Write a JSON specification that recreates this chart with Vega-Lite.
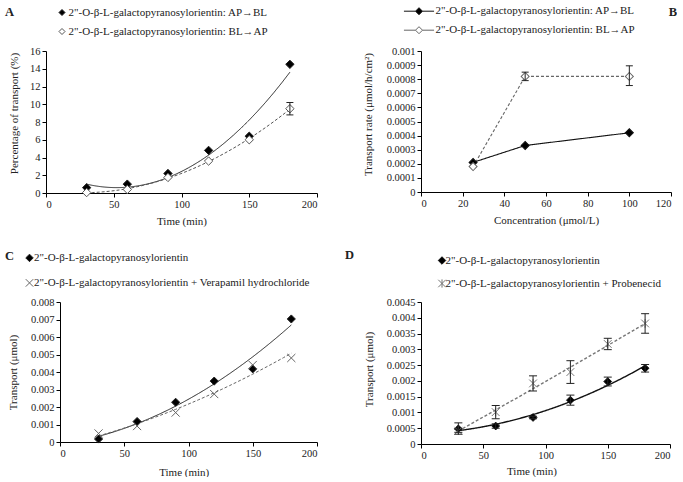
{
  "$schema": "https://vega.github.io/schema/vega-lite/v6.json",
  "background": "white",
  "padding": {"left": 5, "top": 5, "right": 0, "bottom": 0},
  "config": {
    "font": "Liberation Serif",
    "view": {"stroke": null},
    "axis": {"grid": false, "domainColor": "#000", "tickColor": "#000", "tickSize": 4, "labelFontSize": 10.5, "labelColor": "#222", "labelFont": "Liberation Serif", "titleFont": "Liberation Serif", "titleFontSize": 11, "titleFontWeight": "normal", "titleColor": "#222", "labelPadding": 2, "labelOverlap": false, "titleBaseline": "middle", "titleAlign": "center"},
    "legend": {"labelFont": "Liberation Serif", "labelFontSize": 11, "labelColor": "#222", "labelLimit": 400, "padding": 0, "offset": 0},
    "title": {"font": "Liberation Serif", "fontSize": 12.5, "fontWeight": "bold", "color": "#222", "offset": 0}
  },
  "datasets": {
    "A": [
      {"series": "2\"-O-β-L-galactopyranosylorientin:  AP→BL", "x": 30, "y": 0.6},
      {"series": "2\"-O-β-L-galactopyranosylorientin:  AP→BL", "x": 60, "y": 1.0},
      {"series": "2\"-O-β-L-galactopyranosylorientin:  AP→BL", "x": 90, "y": 2.2},
      {"series": "2\"-O-β-L-galactopyranosylorientin:  AP→BL", "x": 120, "y": 4.8},
      {"series": "2\"-O-β-L-galactopyranosylorientin:  AP→BL", "x": 150, "y": 6.4},
      {"series": "2\"-O-β-L-galactopyranosylorientin:  AP→BL", "x": 180, "y": 14.5},
      {"series": "2\"-O-β-L-galactopyranosylorientin:  BL→AP", "x": 30, "y": 0.05},
      {"series": "2\"-O-β-L-galactopyranosylorientin:  BL→AP", "x": 60, "y": 0.4},
      {"series": "2\"-O-β-L-galactopyranosylorientin:  BL→AP", "x": 90, "y": 1.75},
      {"series": "2\"-O-β-L-galactopyranosylorientin:  BL→AP", "x": 120, "y": 3.6},
      {"series": "2\"-O-β-L-galactopyranosylorientin:  BL→AP", "x": 150, "y": 6.0},
      {"series": "2\"-O-β-L-galactopyranosylorientin:  BL→AP", "x": 180, "y": 9.5, "lo": 8.8, "hi": 10.2}
    ],
    "B": [
      {"series": "2\"-O-β-L-galactopyranosylorientin:  AP→BL", "x": 25, "y": 0.00021},
      {"series": "2\"-O-β-L-galactopyranosylorientin:  AP→BL", "x": 50, "y": 0.00033},
      {"series": "2\"-O-β-L-galactopyranosylorientin:  AP→BL", "x": 100, "y": 0.00042},
      {"series": "2\"-O-β-L-galactopyranosylorientin:  BL→AP", "x": 25, "y": 0.00018},
      {"series": "2\"-O-β-L-galactopyranosylorientin:  BL→AP", "x": 50, "y": 0.00082, "lo": 0.00079, "hi": 0.00085},
      {"series": "2\"-O-β-L-galactopyranosylorientin:  BL→AP", "x": 100, "y": 0.00082, "lo": 0.000755, "hi": 0.000895}
    ],
    "C": [
      {"series": "2\"-O-β-L-galactopyranosylorientin", "x": 30, "y": 0.00017},
      {"series": "2\"-O-β-L-galactopyranosylorientin", "x": 60, "y": 0.00117},
      {"series": "2\"-O-β-L-galactopyranosylorientin", "x": 90, "y": 0.00227},
      {"series": "2\"-O-β-L-galactopyranosylorientin", "x": 120, "y": 0.00348},
      {"series": "2\"-O-β-L-galactopyranosylorientin", "x": 150, "y": 0.00418},
      {"series": "2\"-O-β-L-galactopyranosylorientin", "x": 180, "y": 0.00703},
      {"series": "2\"-O-β-L-galactopyranosylorientin + Verapamil  hydrochloride", "x": 30, "y": 0.00049},
      {"series": "2\"-O-β-L-galactopyranosylorientin + Verapamil  hydrochloride", "x": 60, "y": 0.00091},
      {"series": "2\"-O-β-L-galactopyranosylorientin + Verapamil  hydrochloride", "x": 90, "y": 0.00168},
      {"series": "2\"-O-β-L-galactopyranosylorientin + Verapamil  hydrochloride", "x": 120, "y": 0.00274},
      {"series": "2\"-O-β-L-galactopyranosylorientin + Verapamil  hydrochloride", "x": 150, "y": 0.0044},
      {"series": "2\"-O-β-L-galactopyranosylorientin + Verapamil  hydrochloride", "x": 180, "y": 0.0048}
    ],
    "D": [
      {"series": "2\"-O-β-L-galactopyranosylorientin", "x": 30, "y": 0.00048, "lo": 0.00031, "hi": 0.00067},
      {"series": "2\"-O-β-L-galactopyranosylorientin", "x": 60, "y": 0.00057, "lo": 0.0005, "hi": 0.00064},
      {"series": "2\"-O-β-L-galactopyranosylorientin", "x": 90, "y": 0.00084, "lo": 0.0008, "hi": 0.00088},
      {"series": "2\"-O-β-L-galactopyranosylorientin", "x": 120, "y": 0.00139, "lo": 0.00123, "hi": 0.00155},
      {"series": "2\"-O-β-L-galactopyranosylorientin", "x": 150, "y": 0.00198, "lo": 0.00184, "hi": 0.00212},
      {"series": "2\"-O-β-L-galactopyranosylorientin", "x": 180, "y": 0.0024, "lo": 0.00228, "hi": 0.00252},
      {"series": "2\"-O-β-L-galactopyranosylorientin + Probenecid", "x": 30, "y": 0.00042, "lo": 0.00037, "hi": 0.00047},
      {"series": "2\"-O-β-L-galactopyranosylorientin + Probenecid", "x": 60, "y": 0.00101, "lo": 0.0008, "hi": 0.00122},
      {"series": "2\"-O-β-L-galactopyranosylorientin + Probenecid", "x": 90, "y": 0.00192, "lo": 0.00168, "hi": 0.00216},
      {"series": "2\"-O-β-L-galactopyranosylorientin + Probenecid", "x": 120, "y": 0.00228, "lo": 0.00192, "hi": 0.00264},
      {"series": "2\"-O-β-L-galactopyranosylorientin + Probenecid", "x": 150, "y": 0.00317, "lo": 0.00299, "hi": 0.00335},
      {"series": "2\"-O-β-L-galactopyranosylorientin + Probenecid", "x": 180, "y": 0.00382, "lo": 0.00351, "hi": 0.00413}
    ]
  },
  "columns": 2,
  "bounds": "flush",
  "spacing": {"row": 109, "column": 104},
  "resolve": {"scale": {"shape": "independent", "fill": "independent", "stroke": "independent", "strokeDash": "independent"}},
  "concat": [
    {
      "width": 271, "height": 142,
      "title": {"text": "A", "anchor": "start", "frame": "group", "dx": -41, "dy": 15.5},
      "data": {"name": "A"},
      "encoding": {
        "x": {"field": "x", "type": "quantitative", "scale": {"domain": [0, 200], "nice": false}, "axis": {"title": "Time (min)", "values": [0, 50, 100, 150, 200], "labelOverlap": false, "titleFontWeight": "normal", "titleY": 28.7}},
        "y": {"field": "y", "type": "quantitative", "scale": {"domain": [0, 16], "nice": false}, "axis": {"title": "Percentage of transport (%)", "values": [0, 2, 4, 6, 8, 10, 12, 14, 16], "labelOverlap": false, "titleFontWeight": "normal", "titleX": -32, "titleY": 62}}
      },
      "layer": [
        {
          "transform": [{"regression": "y", "on": "x", "groupby": ["series"], "method": "poly", "order": 2, "extent": [30, 180]}],
          "mark": {"type": "line", "strokeWidth": 1},
          "encoding": {
            "detail": {"field": "series", "type": "nominal"},
            "stroke": {"condition": {"test": "indexof(datum.series, 'BL→AP') >= 0", "value": "#555"}, "value": "#222"},
            "strokeDash": {"condition": {"test": "indexof(datum.series, 'BL→AP') >= 0", "value": [3, 2]}, "value": [1, 0]}
          }
        },
        {
          "mark": {"type": "point", "size": 70, "opacity": 1, "strokeWidth": 1},
          "encoding": {
            "shape": {"field": "series", "type": "nominal", "scale": {"domain": ["2\"-O-β-L-galactopyranosylorientin:  AP→BL", "2\"-O-β-L-galactopyranosylorientin:  BL→AP"], "range": ["diamond", "diamond"]}, "legend": {"title": null, "orient": "none", "direction": "vertical", "legendX": 10.5, "legendY": -44, "symbolSize": 36, "labelOffset": 1, "rowPadding": 7, "symbolStrokeWidth": 1}},
            "fill": {"field": "series", "type": "nominal", "scale": {"domain": ["2\"-O-β-L-galactopyranosylorientin:  AP→BL", "2\"-O-β-L-galactopyranosylorientin:  BL→AP"], "range": ["#000", "#fff"]}, "legend": {"title": null, "orient": "none", "direction": "vertical", "legendX": 10.5, "legendY": -44, "symbolSize": 36, "labelOffset": 1, "rowPadding": 7, "symbolStrokeWidth": 1}},
            "stroke": {"field": "series", "type": "nominal", "scale": {"domain": ["2\"-O-β-L-galactopyranosylorientin:  AP→BL", "2\"-O-β-L-galactopyranosylorientin:  BL→AP"], "range": ["#222", "#555"]}, "legend": {"title": null, "orient": "none", "direction": "vertical", "legendX": 10.5, "legendY": -44, "symbolSize": 36, "labelOffset": 1, "rowPadding": 7, "symbolStrokeWidth": 1}}
          }
        },
        {
          "transform": [{"filter": "datum.lo != null"}],
          "mark": {"type": "rule", "color": "#222", "strokeWidth": 1},
          "encoding": {
            "y": {"field": "lo", "type": "quantitative", "scale": {"domain": [0, 16], "nice": false}, "axis": {"title": "Percentage of transport (%)", "values": [0, 2, 4, 6, 8, 10, 12, 14, 16], "labelOverlap": false, "titleFontWeight": "normal", "titleX": -32, "titleY": 62}},
            "y2": {"field": "hi"}
          }
        },
        {
          "transform": [{"filter": "datum.lo != null"}],
          "mark": {"type": "tick", "orient": "horizontal", "size": 7, "thickness": 1, "color": "#222", "opacity": 1},
          "encoding": {
            "y": {"field": "lo", "type": "quantitative", "scale": {"domain": [0, 16], "nice": false}, "axis": {"title": "Percentage of transport (%)", "values": [0, 2, 4, 6, 8, 10, 12, 14, 16], "labelOverlap": false, "titleFontWeight": "normal", "titleX": -32, "titleY": 62}}
          }
        },
        {
          "transform": [{"filter": "datum.lo != null"}],
          "mark": {"type": "tick", "orient": "horizontal", "size": 7, "thickness": 1, "color": "#222", "opacity": 1},
          "encoding": {
            "y": {"field": "hi", "type": "quantitative", "scale": {"domain": [0, 16], "nice": false}, "axis": {"title": "Percentage of transport (%)", "values": [0, 2, 4, 6, 8, 10, 12, 14, 16], "labelOverlap": false, "titleFontWeight": "normal", "titleX": -32, "titleY": 62}}
          }
        }
      ]
    },
    {
      "width": 250, "height": 141,
      "title": {"text": "B", "anchor": "end", "frame": "group", "dx": 6, "dy": 17},
      "data": {"name": "B"},
      "encoding": {
        "x": {"field": "x", "type": "quantitative", "scale": {"domain": [0, 120], "nice": false}, "axis": {"title": "Concentration (μmol/L)", "values": [0, 20, 40, 60, 80, 100, 120], "labelOverlap": false, "titleFontWeight": "normal", "titleY": 28.7}},
        "y": {"field": "y", "type": "quantitative", "scale": {"domain": [0, 0.001], "nice": false}, "axis": {"title": "Transport rate (μmol/h/cm²)", "values": [0, 0.0001, 0.0002, 0.0003, 0.0004, 0.0005, 0.0006, 0.0007, 0.0008, 0.0009, 0.001], "format": "~g", "labelOverlap": false, "titleFontWeight": "normal", "titleX": -53, "titleY": 63}}
      },
      "layer": [
        {
          "mark": {"type": "line", "strokeWidth": 1.1},
          "encoding": {
            "detail": {"field": "series", "type": "nominal"},
            "stroke": {"condition": {"test": "indexof(datum.series, 'BL→AP') >= 0", "value": "#666"}, "value": "#111"},
            "strokeDash": {"condition": {"test": "indexof(datum.series, 'BL→AP') >= 0", "value": [3, 2]}, "value": [1, 0]}
          }
        },
        {
          "mark": {"type": "square", "size": 32, "angle": 45, "opacity": 1, "strokeWidth": 1},
          "encoding": {
            "fill": {"field": "series", "type": "nominal", "scale": {"domain": ["2\"-O-β-L-galactopyranosylorientin:  AP→BL", "2\"-O-β-L-galactopyranosylorientin:  BL→AP"], "range": ["#000", "#fff"]}, "legend": {"title": null, "orient": "none", "direction": "vertical", "legendX": -7.5, "legendY": -45.3, "symbolSize": 49, "symbolType": "M-4.3,0L-1,0M1,0L4.3,0M-1,0L0,-1L1,0L0,1Z", "labelOffset": 11, "rowPadding": 7, "symbolStrokeWidth": 1, "encode": {"symbols": {"update": {"shape": {"value": "M-4.3,0L-1,0M1,0L4.3,0M-1,0L0,-1L1,0L0,1Z"}, "angle": {"value": 0}, "strokeDash": {"signal": "indexof(datum.value, 'BL→AP') >= 0 ? [2, 1.5] : [1, 0]"}}}}}},
            "stroke": {"field": "series", "type": "nominal", "scale": {"domain": ["2\"-O-β-L-galactopyranosylorientin:  AP→BL", "2\"-O-β-L-galactopyranosylorientin:  BL→AP"], "range": ["#111", "#666"]}, "legend": {"title": null, "orient": "none", "direction": "vertical", "legendX": -7.5, "legendY": -45.3, "symbolSize": 49, "symbolType": "M-4.3,0L-1,0M1,0L4.3,0M-1,0L0,-1L1,0L0,1Z", "labelOffset": 11, "rowPadding": 7, "symbolStrokeWidth": 1, "encode": {"symbols": {"update": {"shape": {"value": "M-4.3,0L-1,0M1,0L4.3,0M-1,0L0,-1L1,0L0,1Z"}, "angle": {"value": 0}, "strokeDash": {"signal": "indexof(datum.value, 'BL→AP') >= 0 ? [2, 1.5] : [1, 0]"}}}}}}
          }
        },
        {
          "transform": [{"filter": "datum.lo != null"}],
          "mark": {"type": "rule", "color": "#222", "strokeWidth": 1},
          "encoding": {
            "y": {"field": "lo", "type": "quantitative", "scale": {"domain": [0, 0.001], "nice": false}, "axis": {"title": "Transport rate (μmol/h/cm²)", "values": [0, 0.0001, 0.0002, 0.0003, 0.0004, 0.0005, 0.0006, 0.0007, 0.0008, 0.0009, 0.001], "format": "~g", "labelOverlap": false, "titleFontWeight": "normal", "titleX": -53, "titleY": 63}},
            "y2": {"field": "hi"}
          }
        },
        {
          "transform": [{"filter": "datum.lo != null"}],
          "mark": {"type": "tick", "orient": "horizontal", "size": 7, "thickness": 1, "color": "#222", "opacity": 1},
          "encoding": {
            "y": {"field": "lo", "type": "quantitative", "scale": {"domain": [0, 0.001], "nice": false}, "axis": {"title": "Transport rate (μmol/h/cm²)", "values": [0, 0.0001, 0.0002, 0.0003, 0.0004, 0.0005, 0.0006, 0.0007, 0.0008, 0.0009, 0.001], "format": "~g", "labelOverlap": false, "titleFontWeight": "normal", "titleX": -53, "titleY": 63}}
          }
        },
        {
          "transform": [{"filter": "datum.lo != null"}],
          "mark": {"type": "tick", "orient": "horizontal", "size": 7, "thickness": 1, "color": "#222", "opacity": 1},
          "encoding": {
            "y": {"field": "hi", "type": "quantitative", "scale": {"domain": [0, 0.001], "nice": false}, "axis": {"title": "Transport rate (μmol/h/cm²)", "values": [0, 0.0001, 0.0002, 0.0003, 0.0004, 0.0005, 0.0006, 0.0007, 0.0008, 0.0009, 0.001], "format": "~g", "labelOverlap": false, "titleFontWeight": "normal", "titleX": -53, "titleY": 63}}
          }
        }
      ]
    },
    {
      "width": 271, "height": 140,
      "title": {"text": "C", "anchor": "start", "frame": "group", "dx": -41, "dy": 14.5},
      "data": {"name": "C"},
      "encoding": {
        "x": {"field": "x", "type": "quantitative", "scale": {"domain": [0, 200], "nice": false, "range": [14, 271]}, "axis": {"title": "Time (min)", "values": [0, 50, 100, 150, 200], "labelOverlap": false, "titleFontWeight": "normal", "titleX": 137.7, "titleY": 30}},
        "y": {"field": "y", "type": "quantitative", "scale": {"domain": [0, 0.008], "nice": false}, "axis": {"title": "Transport (μmol)", "values": [0, 0.001, 0.002, 0.003, 0.004, 0.005, 0.006, 0.007, 0.008], "format": "~g", "labelOverlap": false, "offset": -14, "titleFontWeight": "normal", "titleX": -46.7, "titleY": 70}}
      },
      "layer": [
        {
          "transform": [{"regression": "y", "on": "x", "groupby": ["series"], "method": "poly", "order": 2, "extent": [30, 180]}],
          "mark": {"type": "line", "strokeWidth": 1},
          "encoding": {
            "detail": {"field": "series", "type": "nominal"},
            "stroke": {"condition": {"test": "indexof(datum.series, '+') >= 0", "value": "#666"}, "value": "#222"},
            "strokeDash": {"condition": {"test": "indexof(datum.series, '+') >= 0", "value": [3, 2]}, "value": [1, 0]}
          }
        },
        {
          "mark": {"type": "point", "size": 66, "opacity": 1, "strokeWidth": 1},
          "encoding": {
            "shape": {"field": "series", "type": "nominal", "scale": {"domain": ["2\"-O-β-L-galactopyranosylorientin", "2\"-O-β-L-galactopyranosylorientin + Verapamil  hydrochloride"], "range": ["diamond", "M-1,-1L1,1M-1,1L1,-1"]}, "legend": {"title": null, "orient": "none", "direction": "vertical", "legendX": -22, "legendY": -49.6, "symbolSize": 56, "labelOffset": -1, "rowPadding": 12, "symbolStrokeWidth": 1}},
            "fill": {"field": "series", "type": "nominal", "scale": {"domain": ["2\"-O-β-L-galactopyranosylorientin", "2\"-O-β-L-galactopyranosylorientin + Verapamil  hydrochloride"], "range": ["#000", "transparent"]}, "legend": {"title": null, "orient": "none", "direction": "vertical", "legendX": -22, "legendY": -49.6, "symbolSize": 56, "labelOffset": -1, "rowPadding": 12, "symbolStrokeWidth": 1}},
            "stroke": {"field": "series", "type": "nominal", "scale": {"domain": ["2\"-O-β-L-galactopyranosylorientin", "2\"-O-β-L-galactopyranosylorientin + Verapamil  hydrochloride"], "range": ["#222", "#666"]}, "legend": {"title": null, "orient": "none", "direction": "vertical", "legendX": -22, "legendY": -49.6, "symbolSize": 56, "labelOffset": -1, "rowPadding": 12, "symbolStrokeWidth": 1}}
          }
        }
      ]
    },
    {
      "width": 249, "height": 142,
      "title": {"text": "D", "anchor": "start", "frame": "group", "dx": -76, "dy": 10.5},
      "data": {"name": "D"},
      "encoding": {
        "x": {"field": "x", "type": "quantitative", "scale": {"domain": [0, 200], "nice": false}, "axis": {"title": "Time (min)", "values": [0, 50, 100, 150, 200], "labelOverlap": false, "titleFontWeight": "normal", "titleX": 110.5, "titleY": 27.7}},
        "y": {"field": "y", "type": "quantitative", "scale": {"domain": [0, 0.0045], "nice": false}, "axis": {"title": "Transport (μmol)", "values": [0, 0.0005, 0.001, 0.0015, 0.002, 0.0025, 0.003, 0.0035, 0.004, 0.0045], "format": "~g", "labelOverlap": false, "titleFontWeight": "normal", "titleX": -52, "titleY": 67}}
      },
      "layer": [
        {
          "transform": [{"regression": "y", "on": "x", "groupby": ["series"], "method": "poly", "order": 2, "extent": [30, 180]}],
          "mark": {"type": "line", "strokeWidth": 1.4},
          "encoding": {
            "detail": {"field": "series", "type": "nominal"},
            "stroke": {"condition": {"test": "indexof(datum.series, '+') >= 0", "value": "#777"}, "value": "#111"},
            "strokeDash": {"condition": {"test": "indexof(datum.series, '+') >= 0", "value": [3, 2]}, "value": [1, 0]}
          }
        },
        {
          "mark": {"type": "point", "size": 60, "opacity": 1, "strokeWidth": 1},
          "encoding": {
            "shape": {"field": "series", "type": "nominal", "scale": {"domain": ["2\"-O-β-L-galactopyranosylorientin", "2\"-O-β-L-galactopyranosylorientin + Probenecid"], "range": ["diamond", "M-1,-1L1,1M-1,1L1,-1M0,-1.1L0,1.1"]}, "legend": {"title": null, "orient": "none", "direction": "vertical", "legendX": 15.5, "legendY": -47, "symbolSize": 56, "labelOffset": -2, "rowPadding": 10, "symbolStrokeWidth": 1}},
            "fill": {"field": "series", "type": "nominal", "scale": {"domain": ["2\"-O-β-L-galactopyranosylorientin", "2\"-O-β-L-galactopyranosylorientin + Probenecid"], "range": ["#000", "transparent"]}, "legend": {"title": null, "orient": "none", "direction": "vertical", "legendX": 15.5, "legendY": -47, "symbolSize": 56, "labelOffset": -2, "rowPadding": 10, "symbolStrokeWidth": 1}},
            "stroke": {"field": "series", "type": "nominal", "scale": {"domain": ["2\"-O-β-L-galactopyranosylorientin", "2\"-O-β-L-galactopyranosylorientin + Probenecid"], "range": ["#111", "#777"]}, "legend": {"title": null, "orient": "none", "direction": "vertical", "legendX": 15.5, "legendY": -47, "symbolSize": 56, "labelOffset": -2, "rowPadding": 10, "symbolStrokeWidth": 1}}
          }
        },
        {
          "transform": [{"filter": "datum.lo != null"}],
          "mark": {"type": "rule", "color": "#222", "strokeWidth": 1},
          "encoding": {
            "y": {"field": "lo", "type": "quantitative", "scale": {"domain": [0, 0.0045], "nice": false}, "axis": {"title": "Transport (μmol)", "values": [0, 0.0005, 0.001, 0.0015, 0.002, 0.0025, 0.003, 0.0035, 0.004, 0.0045], "format": "~g", "labelOverlap": false, "titleFontWeight": "normal", "titleX": -52, "titleY": 67}},
            "y2": {"field": "hi"}
          }
        },
        {
          "transform": [{"filter": "datum.lo != null"}],
          "mark": {"type": "tick", "orient": "horizontal", "size": 8, "thickness": 1, "color": "#222", "opacity": 1},
          "encoding": {
            "y": {"field": "lo", "type": "quantitative", "scale": {"domain": [0, 0.0045], "nice": false}, "axis": {"title": "Transport (μmol)", "values": [0, 0.0005, 0.001, 0.0015, 0.002, 0.0025, 0.003, 0.0035, 0.004, 0.0045], "format": "~g", "labelOverlap": false, "titleFontWeight": "normal", "titleX": -52, "titleY": 67}}
          }
        },
        {
          "transform": [{"filter": "datum.lo != null"}],
          "mark": {"type": "tick", "orient": "horizontal", "size": 8, "thickness": 1, "color": "#222", "opacity": 1},
          "encoding": {
            "y": {"field": "hi", "type": "quantitative", "scale": {"domain": [0, 0.0045], "nice": false}, "axis": {"title": "Transport (μmol)", "values": [0, 0.0005, 0.001, 0.0015, 0.002, 0.0025, 0.003, 0.0035, 0.004, 0.0045], "format": "~g", "labelOverlap": false, "titleFontWeight": "normal", "titleX": -52, "titleY": 67}}
          }
        }
      ]
    }
  ]
}
